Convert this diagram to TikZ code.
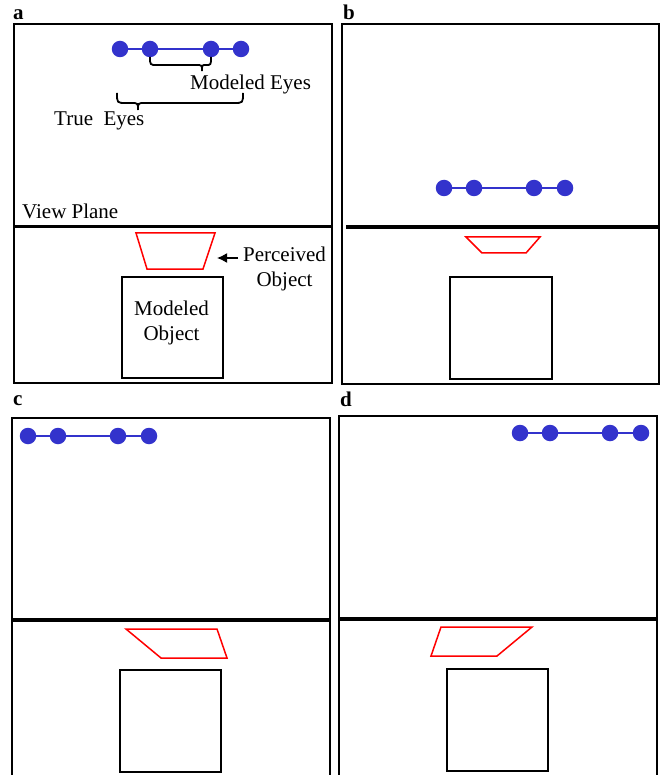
\documentclass[tikz,border=0pt]{standalone}
\usepackage{fontspec}
\setmainfont{Liberation Serif}
\usetikzlibrary{arrows.meta}
\definecolor{eyeblue}{RGB}{51,51,204}
\tikzset{
  frame/.style={draw=black,line width=1.6pt},
  viewplane/.style={draw=black,line width=3.6pt},
  eye/.style={circle,fill=eyeblue,inner sep=0pt,minimum size=16.5pt},
  eyeline/.style={draw=eyeblue,line width=1.6pt},
  perceived/.style={draw=red,line width=1.5pt,line join=miter},
  modeled/.style={draw=black,line width=1.6pt},
  brace/.style={draw=black,line width=1.8pt},
  lbl/.style={font=\fontsize{21}{24.5}\selectfont,inner sep=0pt},
  panel/.style={font=\fontsize{21}{24}\selectfont\bfseries,inner sep=0pt,anchor=base west},
  arr/.style={draw=black,line width=1.5pt,-{Latex[length=10pt,width=10pt]}}
}
\begin{document}
\begin{tikzpicture}[x=1pt,y=-1pt]
\useasboundingbox[fill=white] (0,0) rectangle (660,775);

% ---------------- panel a ----------------
\node[panel] (la) at (13,20) {a};
\draw[frame] (14,24) rectangle (332,383);
\draw[viewplane] (14,226.5) -- (332,226.5);
\node[lbl,anchor=base west] (vp) at (22,219) {View Plane};
\node[eye] (a1) at (120,49) {};
\node[eye] (a2) at (150,49) {};
\node[eye] (a3) at (211,49) {};
\node[eye] (a4) at (241,49) {};
\draw[eyeline] (a1) -- (a2) -- (a3) -- (a4);
% modeled eyes brace
\draw[brace] (150,57) .. controls (150,65) .. (157,65) -- (196,65) .. controls (202,65) .. (202,71);
\draw[brace] (202,71) .. controls (202,65) .. (206,65) .. controls (211,65) .. (211,57);
\node[lbl,anchor=base west] (me) at (190,90) {Modeled Eyes};
% true eyes brace
\draw[brace] (117,93) .. controls (117,103) .. (126,103) -- (131,103) .. controls (138,103) .. (138,110);
\draw[brace] (138,110) .. controls (138,103) .. (145,103) -- (234,103) .. controls (243,103) .. (243,93);
\node[lbl,anchor=base west] (te) at (54,126) {True\ \ Eyes};
% perceived object
\draw[perceived] (136,233) -- (215,233) -- (203,269) -- (147,269) -- cycle;
\node[lbl,align=center,anchor=north] (po) at (284.5,247) {Perceived\\Object};
\coordinate (pa) at (238,258);
\coordinate (pb) at (217,258);
\draw[arr] (pa) -- (pb);
% modeled object
\node[modeled,minimum width=101pt,minimum height=101pt,inner sep=0pt] (moA) at (172.5,327.5) {};
\node[lbl,align=center] (moAt) at (171.5,323) {Modeled\\Object};

% ---------------- panel b ----------------
\node[panel] (lb) at (343,20) {b};
\draw[frame] (342,24) rectangle (659,384);
\draw[viewplane] (346,227) -- (659,227);
\node[eye] (b1) at (444,188) {};
\node[eye] (b2) at (474,188) {};
\node[eye] (b3) at (534,188) {};
\node[eye] (b4) at (565,188) {};
\draw[eyeline] (b1) -- (b2) -- (b3) -- (b4);
\draw[perceived] (466,237) -- (540,237) -- (526,253) -- (482,253) -- cycle;
\node[modeled,minimum width=102pt,minimum height=102pt,inner sep=0pt] (moB) at (501,328) {};

% ---------------- panel c ----------------
\node[panel] (lc) at (13,405) {c};
\draw[frame] (12,780) -- (12,418) -- (330,418) -- (330,780);
\draw[viewplane] (12,620) -- (330,620);
\node[eye] (c1) at (28,436) {};
\node[eye] (c2) at (58,436) {};
\node[eye] (c3) at (118,436) {};
\node[eye] (c4) at (149,436) {};
\draw[eyeline] (c1) -- (c2) -- (c3) -- (c4);
\draw[perceived] (126,629) -- (217,629) -- (227,658) -- (161,658) -- cycle;
\node[modeled,minimum width=101pt,minimum height=102pt,inner sep=0pt] (moC) at (170.5,721) {};

% ---------------- panel d ----------------
\node[panel] (ld) at (340,406) {d};
\draw[frame] (339,780) -- (339,416) -- (657,416) -- (657,780);
\draw[viewplane] (339,619) -- (657,619);
\node[eye] (d1) at (520,433) {};
\node[eye] (d2) at (550,433) {};
\node[eye] (d3) at (610,433) {};
\node[eye] (d4) at (641,433) {};
\draw[eyeline] (d1) -- (d2) -- (d3) -- (d4);
\draw[perceived] (441,627) -- (532,627) -- (497,656) -- (431,656) -- cycle;
\node[modeled,minimum width=101pt,minimum height=102pt,inner sep=0pt] (moD) at (497.5,720) {};
\end{tikzpicture}
\end{document}
